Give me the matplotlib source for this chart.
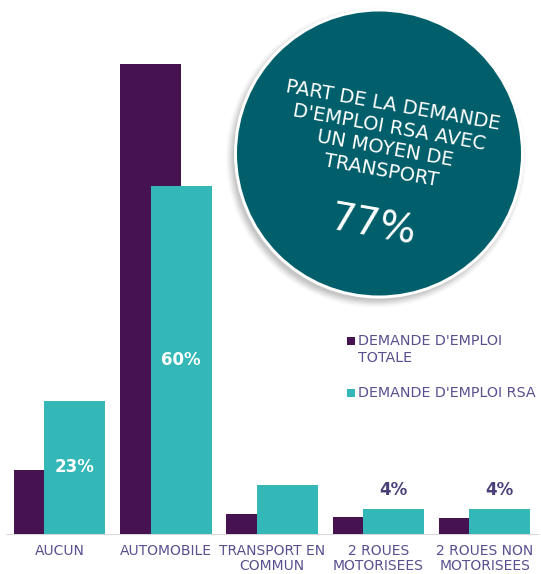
import matplotlib.pyplot as plt
from matplotlib.patches import Circle, Rectangle
import numpy as np

# data
categories = ['AUCUN', 'AUTOMOBILE', 'TRANSPORT EN\nCOMMUN', '2 ROUES\nMOTORISEES', '2 ROUES NON\nMOTORISEES']
totale = [11, 81, 3.4, 2.9, 2.7]
rsa = [23, 60, 8.4, 4.3, 4.3]
rsa_labels = ['23%', '60%', '', '4%', '4%']
inside = [True, True, False, False, False]
series_names = ["DEMANDE D'EMPLOI\nTOTALE", "DEMANDE D'EMPLOI RSA"]
circle_text = "PART DE LA DEMANDE\nD'EMPLOI RSA AVEC\nUN MOYEN DE\nTRANSPORT"
circle_value = '77%'

dark = '#461250'
teal = '#33b7b7'
circle_col = '#005f6a'
text_col = '#5b4f8f'
lbl_col = '#4b3f78'

W, H = 541, 574
fig = plt.figure(figsize=(W / 100, H / 100), dpi=100)

# main bar axes, placed in pixels
unit = 106.25
left_px = 59.6 - 0.5 * unit
base_px = 40
scale = 5.8
ax = fig.add_axes([left_px / W, base_px / H, 5 * unit / W, 90 * scale / H])
ax.set_xlim(-0.5, 4.5)
ax.set_ylim(0, 90)

x = np.arange(len(categories))
bw = 61 / unit
off = 15.25 / unit
ax.bar(x - off, totale, width=bw, color=dark, zorder=2)
ax.bar(x + off, rsa, width=bw, color=teal, zorder=3)

for i, (v, lab) in enumerate(zip(rsa, rsa_labels)):
    if not lab:
        continue
    if inside[i]:
        ax.text(x[i] + off, v / 2, lab, ha='center', va='center', color='white',
                fontsize=12, fontweight='bold', zorder=4)
    else:
        ax.text(x[i] + off, v + 3.3, lab, ha='center', va='center', color=lbl_col,
                fontsize=12, fontweight='bold', zorder=4)

ax.set_xticks(x)
ax.set_xticklabels(categories, fontsize=10, color=text_col, linespacing=1.1)
ax.tick_params(axis='x', length=0, pad=7)
ax.set_yticks([])
for s in ['top', 'right', 'left']:
    ax.spines[s].set_visible(False)
ax.spines['bottom'].set_color('#d9d9d9')
ax.spines['bottom'].set_zorder(1)

# overlay axes in pixel coordinates for the circle and legend
ov = fig.add_axes([0, 0, 1, 1])
ov.set_xlim(0, W)
ov.set_ylim(H, 0)
ov.axis('off')

cx, cy, r = 379, 153.5, 142
# soft shadow toward lower left
for k, a in zip(range(8, 0, -1), [0.03, 0.04, 0.05, 0.06, 0.07, 0.08, 0.09, 0.1]):
    ov.add_patch(Circle((cx - 3, cy + 4), r + k, color='#7f7f7f', alpha=a, lw=0))
ov.add_patch(Circle((cx, cy), r + 3, color='white', lw=0))
ov.add_patch(Circle((cx, cy), r, color=circle_col, lw=0))

ov.text(387, 138, circle_text, ha='center', va='center', color='white', fontsize=14,
        rotation=-10, rotation_mode='anchor', multialignment='center', linespacing=1.2)
ov.text(373, 226, circle_value, ha='center', va='center', color='white', fontsize=28,
        rotation=-10, rotation_mode='anchor')

# legend
ov.add_patch(Rectangle((347, 337), 8, 8, color=dark, lw=0))
ov.text(358, 334, series_names[0], ha='left', va='top', color=text_col, fontsize=10.3,
        linespacing=1.25)
ov.add_patch(Rectangle((347, 389), 8, 8, color=teal, lw=0))
ov.text(358, 393, series_names[1], ha='left', va='center', color=text_col, fontsize=10.3)

fig.savefig('out.png', dpi=100)
